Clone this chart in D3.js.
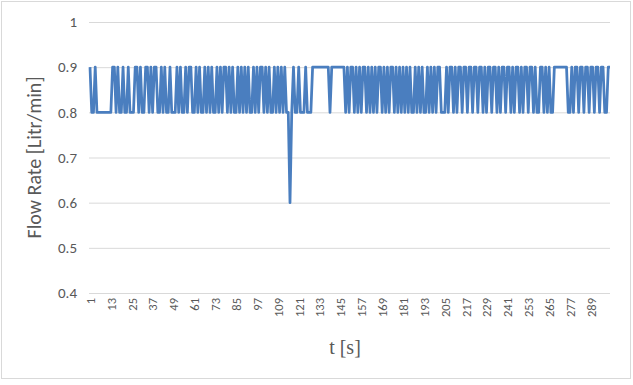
<!DOCTYPE html>
<html>
<head>
<meta charset="utf-8">
<script src="https://cdn.jsdelivr.net/npm/d3@7"></script>
<style>
  body { margin: 0; background: #fff; }
  text { font-family: Calibri, Carlito, Lato, "Open Sans", sans-serif; fill: #595959; }
</style>
</head>
<body>
<div id="chart"></div>
<script>
// flow rate readings, one per second (t = 1..300)
var flow = [
  0.9,0.8,0.8,0.9,0.8,0.8,0.8,0.8,0.8,0.8,0.8,0.8,0.8,0.9,0.9,
  0.8,0.9,0.8,0.8,0.9,0.8,0.8,0.9,0.8,0.8,0.8,0.9,0.9,0.8,0.9,
  0.8,0.8,0.9,0.9,0.8,0.9,0.8,0.9,0.9,0.8,0.8,0.9,0.8,0.9,0.8,
  0.8,0.9,0.8,0.8,0.8,0.9,0.8,0.9,0.8,0.8,0.9,0.8,0.9,0.9,0.8,
  0.8,0.9,0.8,0.9,0.8,0.8,0.9,0.8,0.9,0.8,0.9,0.8,0.8,0.9,0.8,
  0.9,0.8,0.9,0.9,0.8,0.9,0.8,0.9,0.8,0.8,0.9,0.8,0.9,0.8,0.9,
  0.8,0.9,0.8,0.8,0.9,0.8,0.9,0.8,0.9,0.9,0.8,0.9,0.8,0.9,0.8,
  0.8,0.9,0.8,0.9,0.8,0.9,0.8,0.9,0.8,0.8,0.6,0.8,0.9,0.8,0.8,
  0.9,0.8,0.8,0.8,0.9,0.8,0.8,0.8,0.9,0.9,0.9,0.9,0.9,0.9,0.9,
  0.9,0.9,0.9,0.8,0.9,0.9,0.9,0.9,0.9,0.9,0.9,0.9,0.8,0.9,0.8,
  0.9,0.9,0.8,0.9,0.8,0.9,0.8,0.9,0.9,0.8,0.9,0.8,0.9,0.8,0.9,
  0.8,0.9,0.9,0.8,0.9,0.8,0.9,0.8,0.9,0.9,0.8,0.9,0.8,0.9,0.8,
  0.9,0.8,0.9,0.8,0.9,0.8,0.8,0.9,0.8,0.9,0.8,0.9,0.8,0.8,0.9,
  0.8,0.9,0.8,0.9,0.8,0.9,0.9,0.8,0.8,0.8,0.9,0.8,0.9,0.9,0.8,
  0.9,0.8,0.9,0.9,0.8,0.9,0.9,0.8,0.9,0.9,0.8,0.9,0.9,0.8,0.9,
  0.9,0.8,0.9,0.8,0.9,0.9,0.8,0.9,0.9,0.8,0.9,0.8,0.9,0.9,0.8,
  0.9,0.9,0.8,0.9,0.8,0.9,0.9,0.8,0.9,0.8,0.9,0.9,0.8,0.9,0.9,
  0.8,0.9,0.8,0.8,0.9,0.9,0.8,0.9,0.8,0.9,0.8,0.8,0.9,0.9,0.9,
  0.9,0.9,0.9,0.9,0.9,0.8,0.8,0.9,0.8,0.9,0.9,0.8,0.9,0.9,0.8,
  0.9,0.9,0.8,0.9,0.9,0.8,0.9,0.9,0.8,0.9,0.9,0.8,0.8,0.9,0.9
];
var seconds = flow.map((v, i) => i + 1);
var yTicks = [0.4, 0.5, 0.6, 0.7, 0.8, 0.9, 1];
var xLabelEvery = 12;

var w = 633;
var h = 385;
var plotL = 90, plotR = 610, plotT = 22, plotB = 293;

var svg = d3
  .select("#chart")
  .append("svg")
  .attr("width", w)
  .attr("height", h);

// outer chart border
svg.append("rect")
  .attr("x", 1.5).attr("y", 1.5)
  .attr("width", 629).attr("height", 377)
  .attr("fill", "#fff")
  .attr("stroke", "#d9d9d9");

var x = d3.scalePoint().domain(seconds).range([plotL, plotR]);
var y = d3.scaleLinear().domain([0.4, 1]).range([plotB, plotT]);

// gridlines + y labels
var yAxis = svg.append("g")
  .attr("transform", "translate(" + (plotL - 1) + ",0)")
  .call(d3.axisLeft(y).tickValues(yTicks).tickSize(-(plotR - plotL + 1)).tickPadding(12)
    .tickFormat((d) => d3.format("")(d)));
yAxis.select(".domain").remove();
yAxis.selectAll("line").attr("stroke", "#d9d9d9");
yAxis.selectAll("text").style("font-size", "15px").attr("fill", "#595959");

// x labels, rotated
var xAxis = svg.append("g")
  .attr("transform", "translate(0," + plotB + ")")
  .call(d3.axisBottom(x).tickValues(seconds.filter((d) => (d - 1) % xLabelEvery == 0)).tickSize(0));
xAxis.select(".domain").remove();
xAxis.selectAll("text")
  .style("font-size", "12.5px")
  .attr("fill", "#595959")
  .attr("transform", "rotate(-90)")
  .attr("text-anchor", "end")
  .attr("x", -5)
  .attr("y", 0)
  .attr("dy", "0.35em");

var line = d3.line()
  .x((d, i) => x(seconds[i]))
  .y((d) => y(d));

svg.append("path")
  .datum(flow)
  .attr("fill", "none")
  .attr("stroke", "#4a7ebf")
  .attr("stroke-width", 2.75)
  .attr("stroke-linejoin", "round")
  .attr("d", line);

svg.append("text")
  .attr("transform", "translate(41," + (plotT + plotB) / 2 + ") rotate(-90)")
  .attr("text-anchor", "middle")
  .style("font-size", "20px")
  .text("Flow Rate [Litr/min]");

svg.append("text")
  .attr("x", 345)
  .attr("y", 354)
  .attr("text-anchor", "middle")
  .style("font-family", "'Liberation Serif', 'DejaVu Serif', serif")
  .style("font-size", "20px")
  .text("t [s]");
</script>
</body>
</html>
